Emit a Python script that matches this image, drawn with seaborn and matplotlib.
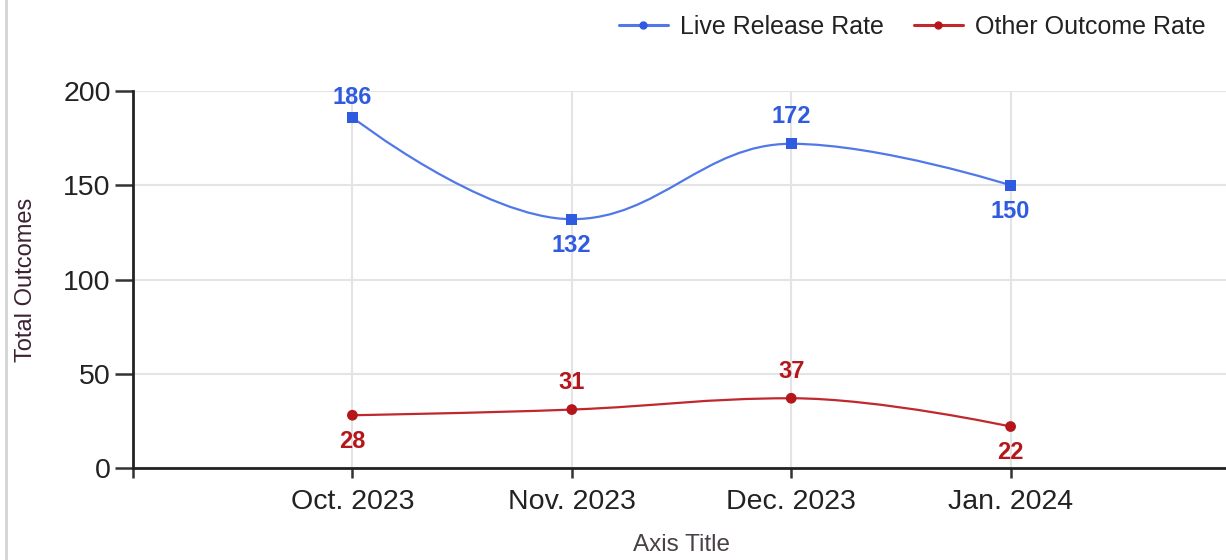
import numpy as np
import pandas as pd
import matplotlib
matplotlib.use("Agg")
import matplotlib.pyplot as plt
import seaborn as sns
from matplotlib.path import Path
from matplotlib.patches import PathPatch
from matplotlib.lines import Line2D

# ---- data ----
months = ["Oct. 2023", "Nov. 2023", "Dec. 2023", "Jan. 2024"]
live_release = [186, 132, 172, 150]
other_outcome = [28, 31, 37, 22]
live_label_pos = ["above", "below", "above", "below"]
other_label_pos = ["below", "above", "above", "below"]
series_names = ["Live Release Rate", "Other Outcome Rate"]
y_ticks = [0, 50, 100, 150, 200]

BLUE = "#5078e8"
BLUE_M = "#2f5be0"
RED = "#c0282d"
RED_M = "#b5161c"

sns.set_theme(style="white")
plt.rcParams["font.family"] = ["Liberation Sans", "DejaVu Sans"]

W, H, DPI = 1226, 560, 100
fig = plt.figure(figsize=(W / DPI, H / DPI), dpi=DPI)
left_px, right_px, top_px, bottom_px = 133, 1230, 91, 468
ax = fig.add_axes([left_px / W, (H - bottom_px) / H,
                   (right_px - left_px) / W, (bottom_px - top_px) / H])

x = np.arange(len(months))


def spline_path(xs, ys, smoothing=1.5):
    denom = smoothing + 1
    n = len(xs)
    lc = [None] * n
    rc = [None] * n
    for i in range(1, n - 1):
        px, py = xs[i], ys[i]
        lx, ly = xs[i - 1], ys[i - 1]
        nx, ny = xs[i + 1], ys[i + 1]
        lcx = (smoothing * px + lx) / denom
        lcy = (smoothing * py + ly) / denom
        rcx = (smoothing * px + nx) / denom
        rcy = (smoothing * py + ny) / denom
        corr = 0
        if rcx != lcx:
            corr = ((rcy - lcy) * (rcx - px)) / (rcx - lcx) + py - rcy
        lcy += corr
        rcy += corr
        if lcy > ly and lcy > py:
            lcy = max(ly, py); rcy = 2 * py - lcy
        elif lcy < ly and lcy < py:
            lcy = min(ly, py); rcy = 2 * py - lcy
        if rcy > ny and rcy > py:
            rcy = max(ny, py); lcy = 2 * py - rcy
        elif rcy < ny and rcy < py:
            rcy = min(ny, py); lcy = 2 * py - rcy
        lc[i] = (lcx, lcy)
        rc[i] = (rcx, rcy)
    verts = [(xs[0], ys[0])]
    codes = [Path.MOVETO]
    for i in range(1, n):
        c1 = rc[i - 1] if rc[i - 1] is not None else (xs[i - 1], ys[i - 1])
        c2 = lc[i] if lc[i] is not None else (xs[i], ys[i])
        verts += [c1, c2, (xs[i], ys[i])]
        codes += [Path.CURVE4] * 3
    return Path(verts, codes)


df = pd.DataFrame({"x": np.concatenate([x, x]),
                   "value": live_release + other_outcome,
                   "series": [series_names[0]] * 4 + [series_names[1]] * 4})

for vals, col in [(live_release, BLUE), (other_outcome, RED)]:
    p = spline_path(list(map(float, x)), list(map(float, vals)))
    ax.add_patch(PathPatch(p, facecolor="none", edgecolor=col, lw=1.6,
                           transform=ax.transData, zorder=3))

sns.scatterplot(data=df[df.series == series_names[0]], x="x", y="value",
                marker="s", s=60, color=BLUE_M, edgecolor="none", ax=ax,
                legend=False, zorder=4)
sns.scatterplot(data=df[df.series == series_names[1]], x="x", y="value",
                marker="o", s=60, color=RED_M, edgecolor="none", ax=ax,
                legend=False, zorder=4)

ax.set_xlim(-1, 4)
ax.set_ylim(0, 200)

# data labels
def label_series(vals, poss, col):
    for xi, v, pos in zip(x, vals, poss):
        disp = ax.transData.transform((xi, v))
        top = ax.transAxes.transform((0, 1))[1]
        if pos == "above":
            off = min(27, (top - disp[1]) - 7)
        else:
            off = -26
        ax.annotate(str(v), (xi, v), xytext=(0, off), textcoords="offset pixels",
                    ha="center", va="center", fontsize=17, fontweight="bold",
                    color=col, zorder=5)

label_series(live_release, live_label_pos, BLUE_M)
label_series(other_outcome, other_label_pos, RED_M)

# axes styling
ax.set_xticks(list(range(-1, 5)))
ax.set_xticklabels([""] + months + [""])
ax.set_yticks(y_ticks)
ax.set_yticklabels([str(t) for t in y_ticks])
ax.tick_params(axis="x", which="both", direction="out", length=7, width=1.8,
               color="#333333", labelsize=20.5, labelcolor="#222222", pad=8)
ax.tick_params(axis="y", which="both", direction="out", length=13, width=1.8,
               color="#333333", labelsize=20.5, labelcolor="#222222", pad=3)
ax.tick_params(bottom=True, left=True)

ax.grid(True, color="#e4e4e4", lw=1.5)
ax.set_axisbelow(True)
for gl, t in zip(ax.get_xgridlines(), range(-1, 5)):
    if t in (-1, 4):
        gl.set_visible(False)

for s in ["top", "right"]:
    ax.spines[s].set_visible(False)
for s in ["left", "bottom"]:
    ax.spines[s].set_color("#222222")
    ax.spines[s].set_linewidth(2)

ax.set_xlabel("Axis Title", fontsize=17.5, color="#4a4048", labelpad=14)
ax.set_ylabel("Total Outcomes", fontsize=17, color="#3d2232", labelpad=19)

# legend
handles = [Line2D([], [], color=BLUE, lw=2.2, marker="o", markersize=5, markerfacecolor=BLUE_M,
                  markeredgecolor=BLUE_M),
           Line2D([], [], color=RED, lw=2.2, marker="o", markersize=5, markerfacecolor=RED_M,
                  markeredgecolor=RED_M)]
fig.legend(handles, series_names, loc="upper right", bbox_to_anchor=(1.002, 1.014),
           ncol=2, frameon=False, fontsize=18, handlelength=1.95, handletextpad=0.5,
           columnspacing=1.2, labelcolor="#222222")

# left frame border
fig.add_artist(Line2D([6 / W, 6 / W], [0, 1], transform=fig.transFigure,
                      color="#d4d4d4", lw=2))

fig.savefig("out.png", dpi=DPI, facecolor="white")
